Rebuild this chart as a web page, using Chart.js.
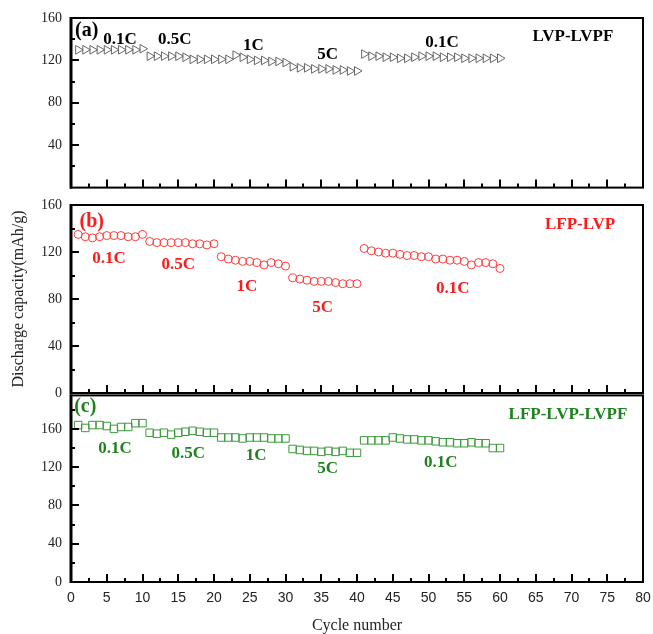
<!DOCTYPE html>
<html>
<head>
<meta charset="utf-8">
<script src="https://cdn.jsdelivr.net/npm/chart.js@4.4.1/dist/chart.umd.min.js"></script>
<style>
  body { margin: 0; background: #fff; }
  #wrap { position: relative; width: 653px; height: 634px; }
  canvas { position: absolute; left: 0; }
</style>
</head>
<body>
<div id="wrap">
  <canvas id="panelA" width="653" height="205" style="top:0"></canvas>
  <canvas id="panelB" width="653" height="290" style="top:150px"></canvas>
  <canvas id="panelC" width="653" height="256" style="top:378px"></canvas>
</div>
<script>
const cycles = [
  1, 2, 3, 4, 5, 6, 7, 8, 9, 10, 11, 12, 13, 14, 15, 16, 17, 18, 19, 20,
  21, 22, 23, 24, 25, 26, 27, 28, 29, 30, 31, 32, 33, 34, 35, 36, 37, 38, 39, 40,
  41, 42, 43, 44, 45, 46, 47, 48, 49, 50, 51, 52, 53, 54, 55, 56, 57, 58, 59, 60
];

// (a) LVP-LVPF
const lvpLvpf = [
  130, 130, 130, 130, 130, 130, 130, 130, 130, 131,
  124, 124, 124, 124, 124, 123, 121, 121, 121, 121,
  121, 121, 125, 123, 121, 120, 120, 119, 119, 118,
  114, 113, 113, 112, 112, 112, 111, 111, 110, 110,
  126, 124, 124, 123, 123, 122, 122, 123, 124, 124,
  124, 123, 123, 123, 122, 122, 122, 122, 122, 122
];

// (b) LFP-LVP
const lfpLvp = [
  135, 133, 132, 133, 134, 134, 134, 133, 133, 135,
  129, 128, 128, 128, 128, 128, 127, 127, 126, 127,
  116, 114, 113, 112, 112, 111, 109, 111, 110, 108,
  98, 97, 96, 95, 95, 95, 94, 93, 93, 93,
  123, 121, 120, 119, 119, 118, 117, 117, 116, 116,
  114, 114, 113, 113, 112, 109, 111, 111, 110, 106
];

// (c) LFP-LVP-LVPF
const lfpLvpLvpf = [
  164, 161, 164, 164, 163, 160, 162, 162, 166, 166,
  156, 155, 156, 154, 156, 157, 158, 157, 156, 156,
  151, 151, 151, 150, 151, 151, 151, 150, 150, 150,
  139, 138, 137, 137, 136, 137, 136, 137, 135, 135,
  148, 148, 148, 148, 151, 150, 149, 149, 148, 148,
  147, 146, 146, 145, 145, 146, 145, 145, 140, 140
];

// rate labels, placed in data coordinates
const notesA = [
  { text: "(a)", x: 2.2, y: 148, size: 20 },
  { text: "0.1C", x: 6.85, y: 139.5 },
  { text: "0.5C", x: 14.5, y: 139.5 },
  { text: "1C", x: 25.5, y: 133.5 },
  { text: "5C", x: 35.9, y: 125.8 },
  { text: "0.1C", x: 51.9, y: 136.9 },
  { text: "LVP-LVPF", x: 70.2, y: 142.9 }
];
const notesB = [
  { text: "(b)", x: 2.9, y: 145.5, size: 20 },
  { text: "0.1C", x: 5.3, y: 114.7 },
  { text: "0.5C", x: 15.0, y: 109.6 },
  { text: "1C", x: 24.6, y: 90.8 },
  { text: "5C", x: 35.2, y: 72.8 },
  { text: "0.1C", x: 53.4, y: 89.1 },
  { text: "LFP-LVP", x: 71.2, y: 142.9 }
];
const notesC = [
  { text: "(c)", x: 2.0, y: 182.7, size: 20 },
  { text: "0.1C", x: 6.15, y: 139.3 },
  { text: "0.5C", x: 16.4, y: 134.2 },
  { text: "1C", x: 25.9, y: 132.1 },
  { text: "5C", x: 35.9, y: 118.7 },
  { text: "0.1C", x: 51.7, y: 124.9 },
  { text: "LFP-LVP-LVPF", x: 69.5, y: 175.4 }
];

const serif = "'Liberation Serif', 'Times New Roman', serif";

// box, inward ticks and text labels
const frame = {
  id: "frame",
  afterDraw(chart, args, opts) {
    const ctx = chart.ctx;
    const area = chart.chartArea;
    const xs = chart.scales.x, ys = chart.scales.y;
    ctx.save();
    ctx.strokeStyle = "#000";
    ctx.lineWidth = 2;
    ctx.strokeRect(area.left, area.top, area.right - area.left, area.bottom - area.top);
    ctx.lineWidth = 3;
    ctx.beginPath();
    ctx.moveTo(area.left, area.top - 1);
    ctx.lineTo(area.left, area.bottom + 1);
    ctx.stroke();

    ctx.lineWidth = 2;
    ctx.beginPath();
    for (let v = 2.5; v < 80; v += 2.5) {
      const px = Math.round(xs.getPixelForValue(v));
      const len = v % 5 === 0 ? 8 : 4;
      ctx.moveTo(px, area.bottom);
      ctx.lineTo(px, area.bottom - len);
    }
    for (let v = 20; v < ys.max; v += 20) {
      const py = Math.round(ys.getPixelForValue(v));
      const len = v % 40 === 0 ? 8 : 4;
      ctx.moveTo(area.left, py);
      ctx.lineTo(area.left + len, py);
    }
    ctx.stroke();

    ctx.fillStyle = opts.color;
    ctx.textAlign = "center";
    ctx.textBaseline = "middle";
    opts.notes.forEach(n => {
      ctx.font = "bold " + (n.size || 17) + "px " + serif;
      ctx.fillText(n.text, xs.getPixelForValue(n.x), ys.getPixelForValue(n.y));
    });
    ctx.restore();
  }
};

const makePanel = (id, cfg) => {
  const showX = !!cfg.showX;
  const xScale = {
    type: "linear",
    min: 0,
    max: 80,
    display: showX,
    grid: { display: false, drawTicks: false },
    border: { display: false },
    ticks: {
      stepSize: 5,
      autoSkip: false,
      maxRotation: 0,
      padding: 8,
      color: "#222",
      font: { family: "'Liberation Sans', Arial, sans-serif", size: 14 }
    },
    title: {
      display: showX,
      text: "Cycle number",
      color: "#222",
      padding: { top: 0, bottom: 0 },
      font: { family: serif, size: 16, lineHeight: 1 }
    }
  };
  if (showX) {
    xScale.afterFit = s => {
      s.height = 52;
      s.paddingLeft = 0;
      s.paddingRight = 0;
    };
  }

  return new Chart(document.getElementById(id), {
    type: "scatter",
    data: {
      datasets: [{
        data: cycles.map((c, i) => ({ x: c, y: cfg.values[i] })),
        pointStyle: cfg.pointStyle,
        rotation: cfg.rotation || 0,
        pointRadius: cfg.radius,
        borderColor: cfg.markerColor,
        backgroundColor: "rgba(0,0,0,0)",
        borderWidth: 1,
        showLine: false
      }]
    },
    options: {
      responsive: false,
      animation: false,
      events: [],
      layout: { padding: { top: cfg.padTop, right: 10, left: 0, bottom: cfg.padBottom || 0 } },
      plugins: {
        legend: { display: false },
        tooltip: { enabled: false },
        frame: { notes: cfg.notes, color: cfg.textColor }
      },
      scales: {
        x: xScale,
        y: {
          min: 0,
          max: cfg.max,
          grid: { display: false, drawTicks: false },
          border: { display: false },
          ticks: {
            stepSize: 40,
            padding: 9,
            color: "#222",
            font: { family: serif, size: 14 },
            callback: v => (v % 40 === 0 && v <= 160 && !(cfg.hideZero && v === 0)) ? v : null
          },
          title: {
            display: !!cfg.yTitle,
            text: cfg.yTitle || "",
            color: "#222",
            padding: { top: 9, bottom: 0 },
            font: { family: serif, size: 16 }
          },
          afterFit: s => { s.width = 71; }
        }
      }
    },
    plugins: [frame]
  });
};

makePanel("panelA", {
  values: lvpLvpf, max: 160, padTop: 18, hideZero: true,
  pointStyle: "triangle", rotation: 90, radius: 5,
  markerColor: "#666", textColor: "#000", notes: notesA
});
makePanel("panelB", {
  values: lfpLvp, max: 160, padTop: 55, padBottom: 47,
  pointStyle: "circle", radius: 4,
  markerColor: "#ff3b3b", textColor: "#ff1a1a", notes: notesB,
  yTitle: "Discharge capacity(mAh/g)"
});
makePanel("panelC", {
  values: lfpLvpLvpf, max: 195, padTop: 15, showX: true,
  pointStyle: "rect", radius: 5.3,
  markerColor: "#3c9a3c", textColor: "#1f821f", notes: notesC
});
</script>
</body>
</html>
